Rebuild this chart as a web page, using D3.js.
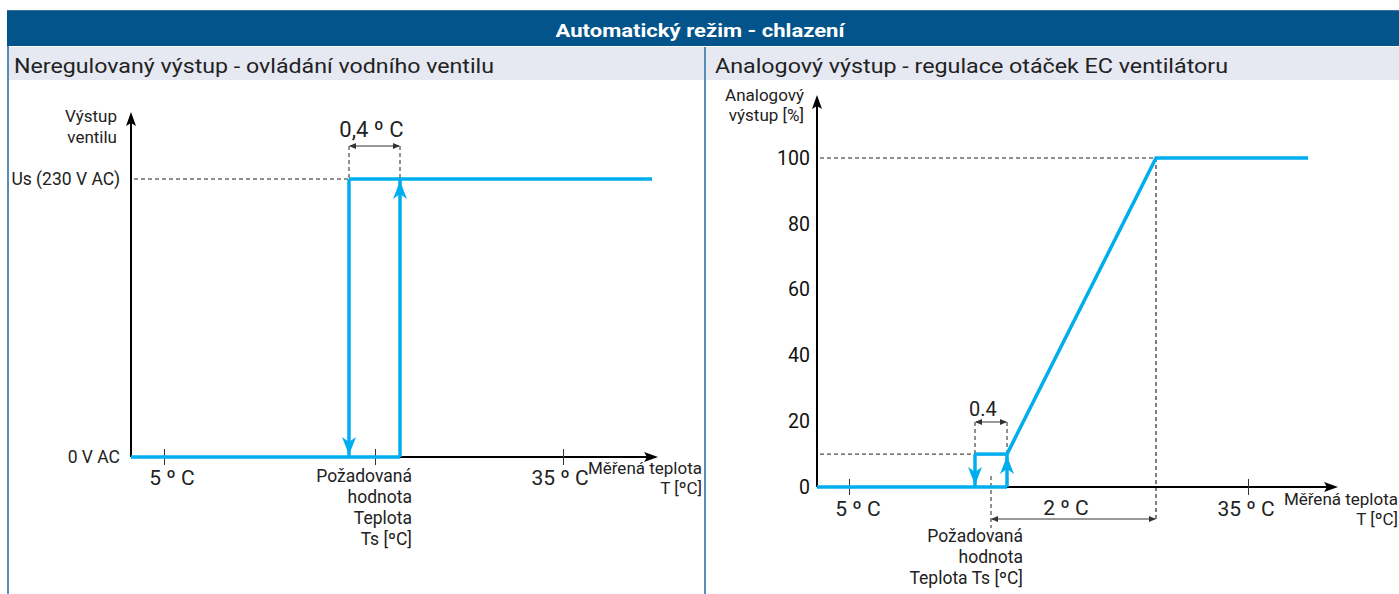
<!DOCTYPE html>
<html><head><meta charset="utf-8">
<script src="https://cdn.jsdelivr.net/npm/d3@7"></script>
<style>
html,body{margin:0;padding:0;background:#fff;}
svg{display:block;font-family:Roboto, "Noto Sans", sans-serif;}
</style></head>
<body>
<svg id="c" width="1399" height="594"></svg>
<script>
// ---------------- data ----------------
const title = "Automatický režim - chlazení";
const panelTitles = ["Neregulovaný výstup - ovládání vodního ventilu", "Analogový výstup - regulace otáček EC ventilátoru"];
const TS = 20;            // setpoint (schematic)
const HYST = 0.4;         // hysteresis °C
const PBAND = 2;          // proportional band °C
// left: on/off valve output [V]
const valveRiseTemps = [0, TS + HYST/2, TS + HYST/2];
const valveRiseOut   = [0, 0, 230];
const valveHighTemps = [TS - HYST/2, 40];
const valveHighOut   = [230, 230];
const valveFallTemps = [TS - HYST/2, TS - HYST/2];
const valveFallOut   = [230, 0];
// right: analog output [%]
const fanRiseTemps = [0, TS + HYST/2, TS + HYST/2, TS + PBAND, 40];
const fanRiseOut   = [0, 0, 10, 100, 100];
const fanLowTemps  = [TS - HYST/2, TS + HYST/2];
const fanLowOut    = [10, 10];
const fanFallTemps = [TS - HYST/2, TS - HYST/2];
const fanFallOut   = [10, 0];
// axes
const tempTicks = [5, TS, 35];
const tempTickLabels = ["5 º C", "", "35 º C"];
const valveLevels = [0, 230];
const valveLevelLabels = ["0 V AC", "Us (230 V AC)"];
const pctTicks = [0, 20, 40, 60, 80, 100];
const setpointLabelL = ["Požadovaná", "hodnota", "Teplota", "Ts [ºC]"];
const setpointLabelR = ["Požadovaná", "hodnota", "Teplota Ts [ºC]"];
const xAxisLabel = ["Měřená teplota", "T [ºC]"];
const yLabelL = ["Výstup", "ventilu"];
const yLabelR = ["Analogový", "výstup [%]"];

// ---------------- layout ----------------
const BLUE = "#00aeef", HEAD = "#02548a", SUB = "#e6e8f2", BORDER = "#5b8cb8", TXT = "#222";
const svg = d3.select("#c");

svg.append("rect").attr("x",7).attr("y",10).attr("width",1392).attr("height",36).attr("fill",HEAD);
svg.append("line").attr("x1",7).attr("x2",1399).attr("y1",10.5).attr("y2",10.5).attr("stroke","#3d72a3");
svg.append("text").attr("x",700).attr("y",37).attr("text-anchor","middle")
  .attr("fill","#fff").attr("font-weight","bold").attr("font-size",18)
  .attr("textLength",289).attr("lengthAdjust","spacingAndGlyphs").text(title);
svg.append("rect").attr("x",7).attr("y",47).attr("width",1392).attr("height",33).attr("fill",SUB);
svg.append("line").attr("x1",8).attr("x2",8).attr("y1",46).attr("y2",594).attr("stroke",BORDER).attr("stroke-width",2);
svg.append("line").attr("x1",705).attr("x2",705).attr("y1",47).attr("y2",594).attr("stroke",BORDER).attr("stroke-width",2);
svg.append("text").attr("x",14).attr("y",73).attr("font-size",20.5).attr("fill",TXT)
  .attr("textLength",480).attr("lengthAdjust","spacingAndGlyphs").text(panelTitles[0]);
svg.append("text").attr("x",715).attr("y",73).attr("font-size",20.5).attr("fill",TXT)
  .attr("textLength",513).attr("lengthAdjust","spacingAndGlyphs").text(panelTitles[1]);

// helpers
function blueArrow(g, x, y, dir){ // dir: 1 = pointing down, -1 = pointing up
  g.append("path").attr("d", `M0,0 L7,${-18*dir} L0,${-13*dir} L-7,${-18*dir} Z`)
   .attr("transform",`translate(${x},${y})`).attr("fill",BLUE);
}
function axisArrow(g, x, y, rot){
  g.append("path").attr("d","M0,0 L-5,14 L0,11 L5,14 Z").attr("fill","#000")
   .attr("transform",`translate(${x},${y}) rotate(${rot})`);
}
function dimArrow(g, x1, x2, y){
  g.append("line").attr("x1",x1+1).attr("x2",x2-1).attr("y1",y).attr("y2",y).attr("stroke","#333").attr("stroke-width",1);
  g.append("path").attr("d",`M${x1},${y} l7,-3 l0,6 Z`).attr("fill","#333");
  g.append("path").attr("d",`M${x2},${y} l-7,-3 l0,6 Z`).attr("fill","#333");
}
function dashed(g, x1, y1, x2, y2, col, w){
  g.append("line").attr("x1",x1).attr("y1",y1).attr("x2",x2).attr("y2",y2)
   .attr("stroke",col||"#222").attr("stroke-width",w||1).attr("stroke-dasharray","4,3");
}
function lines(g, arr, x, y, lh, anchor, size){
  arr.forEach((s,i)=>g.append("text").attr("x",x).attr("y",y+i*lh).attr("text-anchor",anchor)
    .attr("font-size",size).attr("fill",TXT).text(s));
}
const zip = (a,b)=>a.map((v,i)=>[v,b[i]]);

// ---------------- left chart ----------------
{
  const g = svg.append("g");
  const x = d3.scaleLinear().domain([0, 5, TS-HYST/2, TS, TS+HYST/2, 35, 40]).range([131,164,349,375,400,563,652]);
  const y = d3.scaleLinear().domain([0,230]).range([457,179]);
  const line = d3.line().x(d=>x(d[0])).y(d=>y(d[1]));
  const x0 = x(0), y0 = y(0);

  dashed(g, x0+3, y(230), x(TS-HYST/2), y(230));
  dashed(g, x(TS-HYST/2), 146, x(TS-HYST/2), y(230));
  dashed(g, x(TS+HYST/2), 146, x(TS+HYST/2), y(230));
  dimArrow(g, x(TS-HYST/2), x(TS+HYST/2), 146);
  g.append("text").attr("x",(x(TS-HYST/2)+x(TS+HYST/2))/2-3).attr("y",137).attr("text-anchor","middle")
    .attr("font-size",22).attr("fill",TXT).text("0,4 º C");

  g.append("line").attr("x1",x0).attr("x2",x0).attr("y1",y0).attr("y2",120).attr("stroke","#000").attr("stroke-width",2);
  axisArrow(g, x0, 112, 0);
  g.append("line").attr("x1",x0).attr("x2",650).attr("y1",y0).attr("y2",y0).attr("stroke","#000").attr("stroke-width",2);
  axisArrow(g, 658, y0, 90);
  const ax = g.append("g").attr("transform",`translate(0,${y0-8})`)
    .call(d3.axisBottom(x).tickValues(tempTicks).tickSize(16).tickFormat(""));
  ax.select(".domain").remove();
  ax.selectAll(".tick line").attr("stroke","#333");
  const dxL = [8, 0, -3];
  tempTicks.forEach((t,i)=>{ if(tempTickLabels[i]) g.append("text").attr("x",x(t)+dxL[i]).attr("y",485)
      .attr("text-anchor","middle").attr("font-size",21).attr("fill",TXT).text(tempTickLabels[i]); });
  valveLevels.forEach((v,i)=>g.append("text").attr("x",120).attr("y",y(v)+6).attr("text-anchor","end")
      .attr("font-size",17.5).attr("fill",TXT).text(valveLevelLabels[i]));
  lines(g, yLabelL, 117, 122, 21, "end", 17);
  lines(g, xAxisLabel, 702, 474, 20, "end", 17);
  lines(g, setpointLabelL, 412, 482, 21, "end", 17.5);

  const st = p=>p.attr("fill","none").attr("stroke",BLUE).attr("stroke-width",3.5);
  st(g.append("path").attr("d", line(zip(valveRiseTemps, valveRiseOut).slice(0,2))));
  st(g.append("path").attr("d", line(zip(valveRiseTemps, valveRiseOut).slice(1,3))));
  st(g.append("path").attr("d", line(zip(valveHighTemps, valveHighOut))));
  st(g.append("path").attr("d", line(zip(valveFallTemps, valveFallOut))));
  blueArrow(g, x(TS+HYST/2), y(230)+2, -1);
  blueArrow(g, x(TS-HYST/2), y(0)-2, 1);
}

// ---------------- right chart ----------------
{
  const g = svg.append("g");
  const x = d3.scaleLinear().domain([0, 5, TS-HYST/2, TS, TS+HYST/2, TS+PBAND, 35, 40]).range([817,849,975,991,1007,1156,1248,1308]);
  const y = d3.scaleLinear().domain([0,100]).range([487,158]);
  const line = d3.line().x(d=>x(d[0])).y(d=>y(d[1]));
  const x0 = x(0), y0 = y(0);

  dashed(g, x0+3, y(100), x(TS+PBAND), y(100));
  dashed(g, x0+3, y(10), x(TS-HYST/2), y(10));
  dashed(g, x(TS+PBAND), y(100), x(TS+PBAND), 522, "#555", 1.5);
  dashed(g, x(TS), 476, x(TS), 528, "#222", 1);
  dashed(g, x(TS-HYST/2), 422, x(TS-HYST/2), y(10));
  dashed(g, x(TS+HYST/2), 422, x(TS+HYST/2), y(10));
  dimArrow(g, x(TS-HYST/2), x(TS+HYST/2), 422);
  g.append("text").attr("x",(x(TS-HYST/2)+x(TS+HYST/2))/2-8).attr("y",416).attr("text-anchor","middle")
    .attr("font-size",20).attr("fill",TXT).text("0.4");
  dimArrow(g, x(TS), x(TS+PBAND), 519);
  g.append("text").attr("x",1066).attr("y",515).attr("text-anchor","middle")
    .attr("font-size",21).attr("fill",TXT).text("2 º C");

  g.append("line").attr("x1",x0).attr("x2",x0).attr("y1",y0).attr("y2",103).attr("stroke","#000").attr("stroke-width",2);
  axisArrow(g, x0, 95, 0);
  g.append("line").attr("x1",x0).attr("x2",1330).attr("y1",y0).attr("y2",y0).attr("stroke","#000").attr("stroke-width",2);
  axisArrow(g, 1338, y0, 90);
  const ax = g.append("g").attr("transform",`translate(0,${y0-8})`)
    .call(d3.axisBottom(x).tickValues([5,35]).tickSize(16).tickFormat(""));
  ax.select(".domain").remove();
  ax.selectAll(".tick line").attr("stroke","#333");
  const dxR = [9, 0, -2];
  tempTicks.forEach((t,i)=>{ if(tempTickLabels[i]) g.append("text").attr("x",x(t)+dxR[i]).attr("y",516)
      .attr("text-anchor","middle").attr("font-size",21).attr("fill",TXT).text(tempTickLabels[i]); });
  const ay = g.append("g").attr("transform",`translate(${x0-7},0)`)
    .call(d3.axisLeft(y).tickValues(pctTicks).tickSize(0).tickPadding(0));
  ay.select(".domain").remove();
  ay.selectAll("text").attr("font-size",19.5).attr("font-family","Roboto, sans-serif").attr("fill","#111");
  lines(g, yLabelR, 804, 101, 20, "end", 17);
  lines(g, xAxisLabel, 1398, 505, 20, "end", 17);
  lines(g, setpointLabelR, 1023, 542, 21, "end", 17.5);

  const st = p=>p.attr("fill","none").attr("stroke",BLUE).attr("stroke-width",3.5).attr("stroke-linejoin","miter");
  st(g.append("path").attr("d", line(zip(fanRiseTemps, fanRiseOut).slice(0,2))));
  st(g.append("path").attr("d", line(zip(fanRiseTemps, fanRiseOut).slice(1,3))));
  st(g.append("path").attr("d", line(zip(fanRiseTemps, fanRiseOut).slice(2))));
  st(g.append("path").attr("d", line(zip(fanLowTemps, fanLowOut))));
  st(g.append("path").attr("d", line(zip(fanFallTemps, fanFallOut))));
  blueArrow(g, x(TS+HYST/2), y(10)+2, -1);
  blueArrow(g, x(TS-HYST/2), y(0)-2, 1);
}
</script>
</body></html>
